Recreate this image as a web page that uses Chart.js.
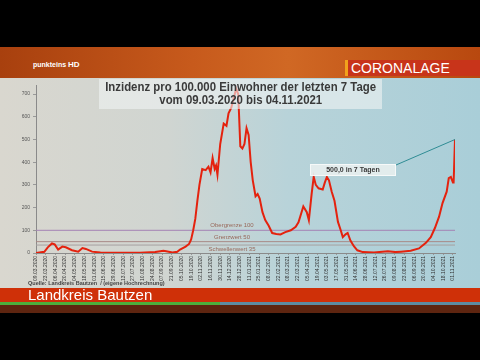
<!DOCTYPE html>
<html>
<head>
    <meta charset="utf-8">
    <title>Coronalage Landkreis Bautzen</title>
    <script src="https://cdn.jsdelivr.net/npm/chart.js"></script>
    <style>
        html, body {
            margin: 0;
            padding: 0;
            width: 480px;
            height: 360px;
            overflow: hidden;
            background: #000;
            font-family: "Liberation Sans", Arial, sans-serif;
        }

        #banner {
            position: absolute; left: 0; top: 47px; width: 480px; height: 31px;
            background: linear-gradient(to right, #a8400e, #c75a1c 40%, #d06824 60%, #b8480f);
        }
        #logo {
            position: absolute; left: 33px; top: 60px; color: #fff;
            font-size: 7px; font-weight: bold;
        }
        #logo b { font-size: 8px; }
        #tagbar { position: absolute; left: 345px; top: 60px; width: 3px; height: 16px; background: #f2a21c; }
        #tag {
            position: absolute; left: 348px; top: 60px; width: 132px; height: 16px;
            background: #c8341a; color: #fff; font-size: 14px; line-height: 16px; padding-left: 3px;
            box-sizing: border-box;
        }

        #panel {
            position: absolute; left: 0; top: 78px; width: 480px; height: 210px;
            background: linear-gradient(to right, #d9d7cf 0%, #d0d5d1 35%, #b8d3d9 60%, #a9ced8 100%);
        }
        #titlebox {
            position: absolute; left: 99px; top: 79px; width: 283px; height: 30px;
            background: rgba(240, 244, 244, 0.6);
            color: #3a3a3a; font-size: 12px; font-weight: bold; text-align: center; line-height: 13px;
            padding-top: 2px; box-sizing: border-box; white-space: nowrap;
        }
        #titlebox span { display: inline-block; transform: scaleX(0.95); transform-origin: center; }
        #titlebox .z1 { margin-left: -10px; margin-right: -10px; }
        #quelle {
            position: absolute; left: 28px; top: 280px; font-size: 5.5px; font-weight: bold; color: #444;
        }
        #footer {
            position: absolute; left: 0; top: 288px; width: 480px; height: 14px;
            background: #cf3008; color: #fff; font-size: 15px; line-height: 14px;
        }
        #footer span { position: absolute; left: 28px; top: 0; }
        #green { position: absolute; left: 0; top: 302px; width: 220px; height: 3px; background: #4caf3c; }
        #blue { position: absolute; left: 220px; top: 302px; width: 260px; height: 3px; background: #5d8ca2; }
        #brown { position: absolute; left: 0; top: 305px; width: 480px; height: 8px; background: #5e2510; }

        #chart { position: absolute; left: 0; top: 0; }
    </style>
</head>
<body>
    <div id="banner"></div>
    <div id="logo">punkteins <b>HD</b></div>
    <div id="tagbar"></div>
    <div id="tag">CORONALAGE</div>
    <div id="panel"></div>
    <canvas id="chart" width="480" height="360"></canvas>
    <div id="titlebox"><span class="z1">Inzidenz pro 100.000 Einwohner der letzten 7 Tage</span><br><span>vom 09.03.2020 bis 04.11.2021</span></div>
    <div id="quelle">Quelle: Landkreis Bautzen &nbsp;/ (eigene Hochrechnung)</div>
    <div id="footer"><span>Landkreis Bautzen</span></div>
    <div id="green"></div>
    <div id="blue"></div>
    <div id="brown"></div>

    <script>
        const tage = [0, 12, 17, 23, 27, 32, 38, 43, 52, 61, 67, 72, 81, 93, 122, 150, 172, 184, 188, 197,
            204, 208, 216, 221, 224, 227, 230, 233, 236, 240, 245, 249, 252, 255, 258, 260, 262, 266, 271, 275,
            278, 282, 287, 289, 292, 295, 298, 301, 304, 307, 310, 313, 317, 320, 323, 327, 331, 336, 341, 347,
            353, 360, 368, 375, 379, 383, 386, 391, 394, 398, 401, 404, 408, 414, 417, 420, 423, 427, 431, 436,
            440, 443, 447, 450, 454, 459, 464, 472, 488, 508, 519, 527, 541, 553, 563, 570, 576, 582, 587, 593,
            596, 599, 602, 603, 605];
        const inzidenz = [0, 5, 25, 42, 38, 15, 28, 25, 12, 6, 22, 18, 6, 2, 1, 1, 4, 10, 8, 2,
            5, 15, 28, 40, 60, 100, 150, 230, 300, 370, 365, 380, 355, 418, 370, 385, 345, 480, 570, 560,
            615, 640, 700, 725, 700, 470, 460, 480, 550, 520, 400, 320, 250, 260, 240, 180, 145, 120, 88, 84,
            82, 92, 100, 115, 135, 175, 205, 180, 145, 260, 335, 300, 285, 280, 310, 335, 320, 270, 230, 137,
            100, 70, 82, 88, 55, 30, 12, 4, 2, 8, 4, 6, 10, 20, 45, 70, 110, 160, 220, 270,
            330, 335, 310, 310, 500];

        // Datumsbeschriftung der x-Achse (alle 14 Tage)
        const datumLabels = ['09.03.2020', '23.03.2020', '06.04.2020', '20.04.2020', '04.05.2020', '18.05.2020',
            '01.06.2020', '15.06.2020', '29.06.2020', '13.07.2020', '27.07.2020', '10.08.2020', '24.08.2020',
            '07.09.2020', '21.09.2020', '05.10.2020', '19.10.2020', '02.11.2020', '16.11.2020', '30.11.2020',
            '14.12.2020', '28.12.2020', '11.01.2021', '25.01.2021', '08.02.2021', '22.02.2021', '08.03.2021',
            '22.03.2021', '05.04.2021', '19.04.2021', '03.05.2021', '17.05.2021', '31.05.2021', '14.06.2021',
            '28.06.2021', '12.07.2021', '26.07.2021', '09.08.2021', '23.08.2021', '06.09.2021', '20.09.2021',
            '04.10.2021', '18.10.2021', '01.11.2021'];

        // Grenzlinien
        const grenzNamen = ['Obergrenze 100', 'Grenzwert 50', 'Schwellenwert 35'];
        const grenzWerte = [100, 50, 35];
        const grenzFarben = ['#a482b4', '#a88a86', '#a6a0a0'];

        const letzterTag = 605;
        const annotationText = '500,0 in 7 Tagen';

        const datasets = [{
            data: tage.map((t, i) => ({ x: t, y: inzidenz[i] })),
            borderColor: '#e4220e',
            borderWidth: 2,
            pointRadius: 0,
            tension: 0,
            order: 0
        }];
        grenzWerte.forEach((w, i) => {
            datasets.push({
                data: [{ x: 0, y: w }, { x: letzterTag, y: w }],
                borderColor: grenzFarben[i],
                borderWidth: 1,
                pointRadius: 0,
                order: 1
            });
        });

        // Beschriftung der Grenzlinien und Hinweisbox
        const beschriftung = {
            id: 'beschriftung',
            afterDatasetsDraw(chart) {
                const c = chart.ctx;
                const xs = chart.scales.x, ys = chart.scales.y;
                c.save();
                c.font = '6px "Liberation Sans", Arial';
                c.fillStyle = '#98685a';
                c.textAlign = 'center';
                c.textBaseline = 'bottom';
                const mx = xs.getPixelForValue(283);
                grenzWerte.forEach((w, i) => {
                    const y = ys.getPixelForValue(w);
                    c.fillText(grenzNamen[i], mx, i === 2 ? y + 7 : y - 1.5);
                });

                // Hinweisbox mit Linie zum letzten Wert
                const ex = xs.getPixelForValue(tage[tage.length - 1]);
                const ey = ys.getPixelForValue(inzidenz[inzidenz.length - 1]);
                c.strokeStyle = '#2f8c94';
                c.lineWidth = 1;
                c.beginPath();
                c.moveTo(396, 165);
                c.lineTo(ex, ey);
                c.stroke();
                c.fillStyle = 'rgba(232, 238, 238, 0.9)';
                c.fillRect(310, 164, 86, 12);
                c.strokeStyle = 'rgba(255,255,255,0.7)';
                c.strokeRect(310.5, 164.5, 85, 11);
                c.fillStyle = '#3a3a3a';
                c.font = 'bold 7px "Liberation Sans", Arial';
                c.textBaseline = 'middle';
                c.fillText(annotationText, 353, 170.5);
                c.restore();
            }
        };

        new Chart(document.getElementById('chart'), {
            type: 'line',
            data: { datasets: datasets },
            options: {
                responsive: false,
                animation: false,
                devicePixelRatio: 1,
                layout: { padding: { top: 85, left: 0, right: 25, bottom: 79 } },
                plugins: { legend: { display: false }, tooltip: { enabled: false } },
                scales: {
                    x: {
                        type: 'linear',
                        min: 0,
                        max: letzterTag,
                        ticks: {
                            stepSize: 14,
                            autoSkip: false,
                            includeBounds: false,
                            maxRotation: 90,
                            minRotation: 90,
                            padding: 1,
                            font: { size: 5, family: '"Liberation Sans", Arial' },
                            color: '#333',
                            callback: (v) => datumLabels[Math.round(v / 14)] || ''
                        },
                        grid: { drawOnChartArea: false, tickLength: 2, color: '#999' },
                        border: { color: '#8a8a8a' },
                        afterFit: (s) => { s.height = 28; }
                    },
                    y: {
                        min: 0,
                        max: 740,
                        ticks: {
                            stepSize: 100,
                            includeBounds: false,
                            padding: 3,
                            font: { size: 5, family: '"Liberation Sans", Arial' },
                            color: '#555'
                        },
                        grid: { drawOnChartArea: false, tickLength: 3, color: '#999' },
                        border: { color: '#8a8a8a' },
                        afterFit: (s) => { s.width = 36; }
                    }
                }
            },
            plugins: [beschriftung]
        });
    </script>
</body>
</html>
